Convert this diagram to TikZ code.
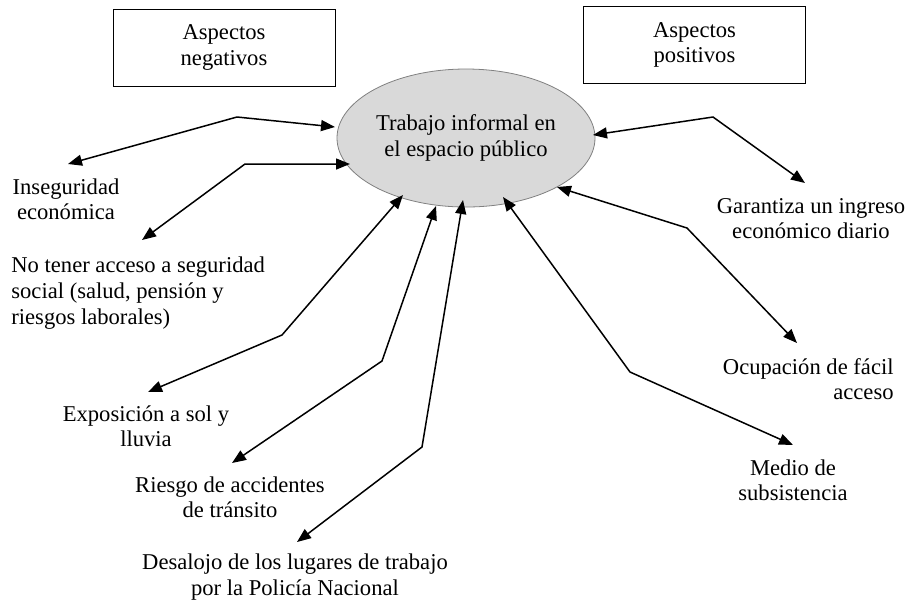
\documentclass[tikz,border=0pt]{standalone}
\usepackage{fontspec}
\setmainfont{Liberation Serif}
\usetikzlibrary{shapes.geometric,arrows.meta}

\definecolor{grisclaro}{HTML}{D9D9D9}
\definecolor{grisborde}{HTML}{808080}

\tikzset{
  caja/.style={draw, line width=0.5pt, minimum width=111pt, minimum height=38.5pt, align=center, inner sep=0pt},
  texto/.style={align=center, inner sep=0pt},
  flecha/.style={{Triangle[length=7pt,width=5.5pt]}-{Triangle[length=7pt,width=5.5pt]}, line width=0.75pt},
}

\begin{document}
\begin{tikzpicture}[x=0.5pt,y=-0.5pt, every node/.style={font=\fontsize{11.3}{12.6}\selectfont}]
 \useasboundingbox (0,0) rectangle (906,602);

 % Boxes at the top
 \node[caja] (neg) at (224,47.5) {Aspectos\\negativos};
 \node[caja] (pos) at (694.5,45) {Aspectos\\positivos};

 % Central ellipse
 \node[ellipse, draw=grisborde, line width=0.4pt, fill=grisclaro, minimum width=129pt, minimum height=69pt, align=center, inner sep=0pt] (trab) at (466,138) {Trabajo informal en\\el espacio público};

 % Negative aspects
 \node[texto] (ins) at (66,199) {Inseguridad\\económica};
 \node[inner sep=0pt, align=left, anchor=west, font=\fontsize{11.3}{13}\selectfont] (seg) at (11,293) {No tener acceso a seguridad\\social (salud, pensión y\\riesgos laborales)};
 \node[texto] (expo) at (146,426) {Exposición a sol y\\lluvia};
 \node[texto] (ries) at (230,497) {Riesgo de accidentes\\de tránsito};
 \node[texto] (desa) at (295,577) {Desalojo de los lugares de trabajo\\por la Policía Nacional};

 % Positive aspects
 \node[texto] (gara) at (811,219) {Garantiza un ingreso\\económico diario};
 \node[inner sep=0pt, align=right, anchor=east] (ocup) at (894,379) {Ocupación de fácil\\acceso};
 \node[texto] (medi) at (793,480) {Medio de\\subsistencia};

 % Ends and bends of the arrows
 \coordinate (insA) at (335,127); \coordinate (insB) at (237,117); \coordinate (insC) at (68,164);
 \coordinate (segA) at (350,164); \coordinate (segB) at (245,164); \coordinate (segC) at (142,240);
 \coordinate (expoA) at (403,195); \coordinate (expoB) at (282,335); \coordinate (expoC) at (148,392);
 \coordinate (riesA) at (436,206); \coordinate (riesB) at (382,361); \coordinate (riesC) at (232,463);
 \coordinate (desaA) at (463,200); \coordinate (desaB) at (422,447); \coordinate (desaC) at (297,542);
 \coordinate (garaA) at (593,135); \coordinate (garaB) at (713,117); \coordinate (garaC) at (805,183);
 \coordinate (ocupA) at (557,187); \coordinate (ocupB) at (687,228); \coordinate (ocupC) at (797,343);
 \coordinate (mediA) at (503,197); \coordinate (mediB) at (630,372); \coordinate (mediC) at (793,445);

 \draw[flecha] (insA) -- (insB) -- (insC); % Inseguridad
 \draw[flecha] (segA) -- (segB) -- (segC); % seguridad social
 \draw[flecha] (expoA) -- (expoB) -- (expoC); % sol y lluvia
 \draw[flecha] (riesA) -- (riesB) -- (riesC); % accidentes
 \draw[flecha] (desaA) -- (desaB) -- (desaC); % desalojo

 \draw[flecha] (garaA) -- (garaB) -- (garaC); % ingreso
 \draw[flecha] (ocupA) -- (ocupB) -- (ocupC); % ocupacion
 \draw[flecha] (mediA) -- (mediB) -- (mediC); % subsistencia

\end{tikzpicture}
\end{document}
